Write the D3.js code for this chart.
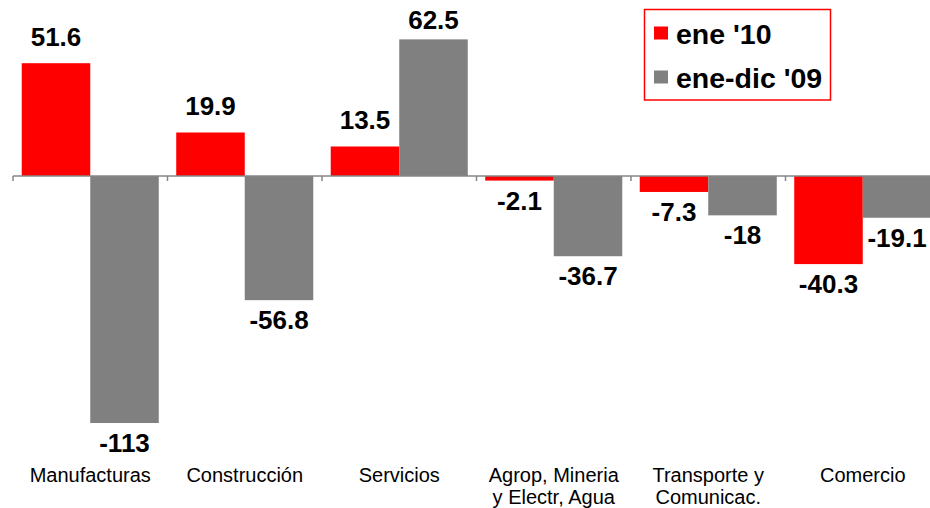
<!DOCTYPE html>
<html>
<head>
<meta charset="utf-8">
<script src="https://cdn.jsdelivr.net/npm/d3@7"></script>
<style>
body { margin: 0; background: #fff; }
svg { font-family: "Liberation Sans", Arial, sans-serif; }
.val { font-size: 26px; font-weight: bold; fill: #000; }
.cat { font-size: 20px; fill: #000; }
.legend text { font-size: 28.5px; font-weight: bold; fill: #000; }
.axis path, .axis line { stroke: #868686; stroke-width: 1.5px; fill: none; }
</style>
</head>
<body>
<svg width="930" height="508"></svg>
<script>
// data
var categories = ["Manufacturas", "Construcción", "Servicios", "Agrop, Mineria\ny Electr, Agua", "Transporte y\nComunicac.", "Comercio"];
var ene10 = [51.6, 19.9, 13.5, -2.1, -7.3, -40.3];
var eneDic09 = [-113, -56.8, 62.5, -36.7, -18, -19.1];
var seriesNames = ["ene '10", "ene-dic '09"];
var colors = ["#ff0000", "#808080"];

var svg = d3.select("svg");

var x = d3.scaleBand()
    .domain(categories)
    .range([13, 940])
    .paddingInner(0.113)
    .paddingOuter(0.0565);

var xs = d3.scaleBand()
    .domain([0, 1])
    .range([0, x.bandwidth()]);

var pxPerUnit = 2.186, zeroY = 176;
var y = d3.scaleLinear()
    .domain([-130, 80])
    .range([zeroY + 130 * pxPerUnit, zeroY - 80 * pxPerUnit]);

var rows = [];
categories.forEach(function (c, i) {
  rows.push({cat: c, s: 0, v: ene10[i]});
  rows.push({cat: c, s: 1, v: eneDic09[i]});
});

// bars
svg.append("g")
  .selectAll("rect")
  .data(rows)
  .enter().append("rect")
    .attr("x", d => x(d.cat) + xs(d.s))
    .attr("width", xs.bandwidth())
    .attr("y", d => y(Math.max(0, d.v)))
    .attr("height", d => Math.abs(y(d.v) - y(0)))
    .attr("fill", d => colors[d.s]);

// zero axis with ticks at category boundaries
var step = x.step();
var edges = d3.range(categories.length + 1).map(i => 13 + i * step);
var ax = svg.append("g").attr("class", "axis");
ax.append("path").attr("d", "M13," + y(0) + "H930");
ax.selectAll("line")
  .data(edges)
  .enter().append("line")
    .attr("x1", d => d).attr("x2", d => d)
    .attr("y1", y(0)).attr("y2", y(0) + 5);

// value labels
svg.append("g")
  .selectAll("text")
  .data(rows)
  .enter().append("text")
    .attr("class", "val")
    .attr("text-anchor", "middle")
    .attr("x", d => x(d.cat) + xs(d.s) + xs.bandwidth() / 2)
    .attr("y", d => d.v >= 0 ? Math.max(29, y(d.v) - 17) : y(d.v) + 29)
    .text(d => d.v);

// category labels
var cat = svg.append("g")
  .selectAll("text")
  .data(categories)
  .enter().append("text")
    .attr("class", "cat")
    .attr("text-anchor", "middle")
    .attr("x", d => x(d) + x.bandwidth() / 2)
    .attr("y", 482);
cat.selectAll("tspan")
  .data(d => d.split("\n"))
  .enter().append("tspan")
    .attr("x", function () { return this.parentNode.getAttribute("x"); })
    .attr("dy", (d, i) => i ? 21.5 : 0)
    .text(d => d);

// legend
var lg = svg.append("g").attr("class", "legend");
lg.append("rect")
  .attr("x", 644.5).attr("y", 9.5)
  .attr("width", 186).attr("height", 90.5)
  .attr("fill", "#fff").attr("stroke", "#ff0000").attr("stroke-width", 1.5);
var items = lg.selectAll("g.item")
  .data(seriesNames)
  .enter().append("g")
    .attr("class", "item")
    .attr("transform", (d, i) => "translate(654," + (43.5 + i * 44) + ")");
items.append("rect")
  .attr("x", 0).attr("y", -17)
  .attr("width", 14).attr("height", 13)
  .attr("fill", (d, i) => colors[i]);
items.append("text")
  .attr("x", 22)
  .text(d => d);
</script>
</body>
</html>
